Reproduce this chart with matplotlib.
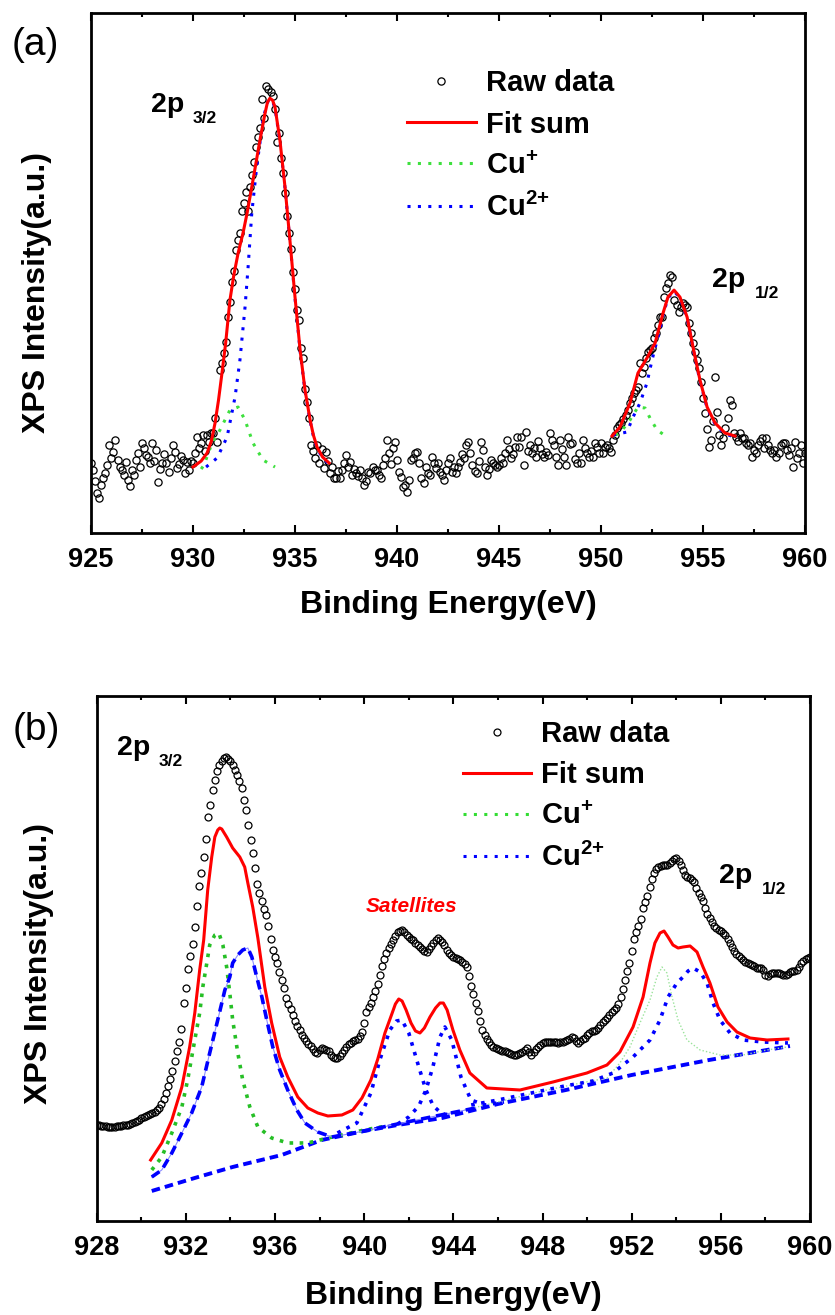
import numpy as np
import matplotlib
matplotlib.use("Agg")
import matplotlib.pyplot as plt
from matplotlib.lines import Line2D
from matplotlib.ticker import MultipleLocator

plt.rcParams['font.family'] = ['Liberation Sans', 'DejaVu Sans']
plt.rcParams['font.weight'] = 'bold'
plt.rcParams['axes.labelweight'] = 'bold'
plt.rcParams['mathtext.fontset'] = 'custom'
plt.rcParams['mathtext.rm'] = 'Liberation Sans:bold'
plt.rcParams['mathtext.bf'] = 'Liberation Sans:bold'
plt.rcParams['mathtext.default'] = 'rm'
plt.rcParams['axes.linewidth'] = 2.0

# ---------------- panel (a): raw data, 0.1 eV steps from 925 eV ----------------
raw_a_start, raw_a_step = 925.0, 0.1
raw_a = [
    70, 63, 52, 40, 35, 48, 55, 60, 68, 88,
    75, 81, 93, 73, 66, 63, 58, 71, 53, 47,
    63, 58, 73, 80, 66, 90, 85, 78, 76, 70,
    90, 72, 83, 51, 64, 70, 79, 70, 61, 75,
    88, 81, 65, 69, 77, 73, 60, 71, 63, 72,
    70, 80, 96, 85, 90, 98, 82, 98, 91, 100,
    100, 115, 91, 163, 170, 180, 191, 216, 231, 251,
    262, 283, 293, 300, 322, 330, 341, 322, 346, 358,
    371, 386, 396, 405, 434, 415, 447, 444, 441, 437,
    424, 391, 400, 375, 360, 340, 317, 300, 284, 261,
    244, 223, 213, 185, 175, 144, 131, 115, 88, 82,
    75, 88, 70, 84, 65, 81, 72, 60, 66, 55,
    55, 62, 55, 63, 70, 78, 66, 71, 58, 64,
    60, 57, 63, 55, 48, 52, 61, 60, 66, 63,
    63, 58, 55, 68, 75, 93, 80, 69, 85, 91,
    73, 61, 56, 46, 48, 41, 53, 73, 75, 80,
    81, 70, 55, 50, 66, 60, 58, 76, 70, 65,
    70, 61, 58, 53, 63, 70, 75, 61, 66, 60,
    66, 71, 79, 75, 88, 91, 80, 68, 62, 60,
    72, 91, 83, 66, 58, 64, 73, 70, 68, 66,
    68, 75, 70, 80, 93, 84, 75, 79, 86, 96,
    86, 96, 68, 101, 82, 88, 80, 85, 76, 92,
    85, 79, 76, 81, 78, 100, 93, 88, 76, 68,
    93, 84, 76, 68, 96, 89, 90, 74, 70, 80,
    70, 93, 85, 80, 76, 82, 76, 90, 86, 80,
    90, 80, 86, 88, 85, 81, 93, 98, 105, 108,
    110, 114, 118, 123, 130, 135, 140, 143, 146, 170,
    160, 166, 175, 181, 183, 185, 195, 200, 208, 216,
    216, 236, 245, 250, 258, 256, 233, 228, 221, 226,
    230, 228, 226, 210, 200, 190, 181, 173, 165, 151,
    135, 120, 104, 86, 93, 112, 156, 121, 98, 88,
    95, 105, 115, 133, 128, 100, 96, 92, 100, 95,
    95, 90, 88, 90, 76, 83, 80, 88, 92, 95,
    85, 95, 88, 83, 80, 83, 76, 80, 88, 90,
    90, 83, 78, 85, 66, 91, 75, 80, 88, 70,
    80,
]

# fit sum, 2p3/2 and 2p1/2
fit_a1_e = [930.00, 930.40, 930.69, 930.90, 931.08, 931.25, 931.42, 931.60, 931.81, 932.00,
            932.21, 932.45, 932.65, 932.94, 933.28, 933.53, 933.65, 933.77, 933.90, 934.02,
            934.26, 934.51, 934.75, 935.00, 935.25, 935.49, 935.74, 935.90, 936.08, 936.35, 936.67]
fit_a1_i = [66, 72, 80, 92, 110, 133, 160, 190, 233, 258,
            280, 300, 320, 353, 393, 420, 431, 435, 433, 426,
            393, 346, 293, 236, 183, 143, 113, 98, 86, 76, 70]
fit_a2_e = [950.54, 950.93, 951.42, 951.81, 952.25, 952.65, 953.04, 953.28, 953.58, 953.87,
            954.22, 954.51, 954.85, 955.20, 955.59, 956.08, 956.57]
fit_a2_i = [97, 106, 130, 160, 175, 190, 220, 236, 243, 236,
            216, 186, 153, 126, 110, 100, 97]

# Cu2+ components
cu2_a1_e = [930.64, 931.18, 931.67, 932.06, 932.30, 932.55, 932.70, 932.88, 933.12, 933.45,
            933.69, 933.77, 933.90, 934.02, 934.26, 934.51, 934.75, 935.00, 935.25, 935.49,
            935.74, 935.90, 936.08, 936.35, 936.67]
cu2_a1_i = [66, 75, 96, 136, 173, 226, 266, 320, 366, 416,
            433, 434, 432, 425, 392, 345, 292, 235, 182, 142,
            112, 97, 85, 75, 69]
cu2_a2_e = [950.59, 951.27, 951.57, 951.91, 952.25, 952.50, 952.75, 952.89, 953.04, 953.28,
            953.58, 953.87, 954.22, 954.51, 954.85, 955.20, 955.59, 956.08, 956.57]
cu2_a2_i = [98, 101, 116, 130, 150, 173, 193, 203, 218, 235,
            242, 235, 215, 185, 152, 125, 109, 99, 96]

# Cu+ components
cu1_a1_e = [930.40, 930.54, 930.93, 931.32, 931.81, 932.21, 932.55, 932.94, 933.43, 934.02]
cu1_a1_i = [64, 68, 90, 103, 123, 126, 113, 90, 73, 66]
cu1_a2_e = [950.70, 950.93, 951.42, 951.81, 952.16, 952.40, 952.75, 953.24]
cu1_a2_i = [98, 100, 113, 126, 125, 115, 103, 96]

# ---------------- panel (b): raw data, 0.1 eV steps from 928 eV ----------------
raw_b_start, raw_b_step = 928.0, 0.1
raw_b = [
    96, 96, 95, 95, 95, 94, 94, 94, 94, 95,
    95, 95, 96, 96, 96, 97, 98, 99, 100, 101,
    103, 104, 105, 106, 107, 108, 109, 111, 113, 117,
    122, 128, 135, 142, 150, 160, 170, 179, 192, 218,
    233, 252, 265, 277, 294, 315, 335, 348, 364, 382,
    404, 416, 431, 441, 450, 456, 460, 463, 464, 462,
    460, 456, 451, 446, 440, 433, 421, 411, 396, 381,
    368, 353, 337, 328, 320, 312, 306, 295, 282, 271,
    264, 258, 249, 241, 233, 223, 217, 212, 206, 200,
    195, 191, 186, 183, 180, 177, 175, 172, 169, 168,
    171, 173, 172, 171, 170, 166, 164, 163, 163, 165,
    168, 171, 174, 177, 178, 180, 181, 182, 185, 189,
    198, 209, 214, 218, 224, 230, 237, 246, 255, 262,
    268, 273, 277, 281, 285, 289, 290, 291, 289, 286,
    284, 282, 281, 278, 276, 274, 272, 270, 269, 272,
    275, 278, 281, 283, 281, 279, 276, 271, 268, 266,
    264, 263, 262, 261, 259, 257, 254, 245, 235, 227,
    218, 210, 200, 191, 186, 182, 179, 176, 174, 173,
    172, 171, 170, 170, 169, 168, 167, 166, 166, 167,
    168, 169, 171, 173, 169, 166, 169, 172, 174, 176,
    178, 179, 179, 179, 179, 179, 179, 178, 179, 179,
    180, 181, 182, 184, 183, 180, 178, 180, 182, 183,
    186, 188, 190, 190, 191, 193, 196, 199, 201, 203,
    206, 209, 211, 213, 217, 224, 232, 241, 250, 258,
    270, 282, 289, 295, 302, 313, 319, 325, 334, 342,
    348, 352, 354, 355, 356, 356, 356, 358, 360, 362,
    363, 360, 356, 351, 346, 344, 343, 341, 339, 333,
    328, 324, 320, 313, 307, 303, 299, 295, 293, 291,
    290, 288, 286, 282, 278, 274, 270, 267, 265, 263,
    261, 259, 258, 257, 256, 255, 253, 253, 253, 251,
    246, 245, 247, 248, 248, 248, 248, 247, 246, 246,
    247, 249, 250, 250, 251, 254, 258, 260, 262, 263,
    264,
]

fit_b_e = [930.42, 930.92, 931.37, 931.82, 932.17, 932.40, 932.62, 932.80, 932.98, 933.16,
           933.30, 933.43, 933.52, 933.61, 933.83, 934.10, 934.42, 934.64, 934.78, 935.00,
           935.23, 935.54, 935.85, 936.21, 936.57, 937.02, 937.47, 937.92, 938.37, 939.00,
           939.49, 939.90, 940.30, 940.61, 940.93, 941.24, 941.40, 941.55, 941.70, 941.88,
           942.10, 942.30, 942.50, 942.70, 942.95, 943.20, 943.40, 943.55, 943.72, 943.98,
           944.29, 944.74, 945.50, 946.99, 948.47,
           949.99, 950.89, 951.47, 952.06, 952.51, 952.82, 953.04, 953.27, 953.45, 953.63,
           953.85, 954.08, 954.30, 954.62, 954.93, 955.20, 955.51, 955.87, 956.28, 956.72,
           957.31, 958.07, 959.01]
fit_b_i = [61, 78, 101, 134, 174, 208, 251, 281, 331, 364,
           384, 391, 393, 392, 384, 373, 364, 354, 338, 314,
           283, 234, 198, 164, 144, 124, 113, 108, 105, 106,
           111, 123, 141, 162, 188, 207, 217, 222, 220, 211,
           198, 190, 188, 193, 204, 213, 218, 218, 211, 191,
           171, 148, 133, 131, 139,
           148, 156, 169, 194, 224, 258, 278, 288, 290, 284,
           276, 273, 274, 275, 269, 254, 238, 214, 199, 189,
           183, 181, 182]

# Cu+ 2p3/2 and 2p1/2
cu1_b1_e = [930.47, 930.92, 931.37, 931.82, 932.08, 932.40, 932.62, 932.76, 932.94, 933.07,
            933.30, 933.48, 933.66, 933.83, 933.97, 934.10, 934.33, 934.55, 934.87, 935.23,
            935.85, 936.57, 937.47, 938.37, 939.20, 940.00, 941.00]
cu1_b1_i = [51, 64, 88, 114, 141, 181, 208, 234, 258, 276,
            286, 288, 276, 254, 228, 201, 168, 141, 114, 94,
            83, 78, 78, 83, 87, 91, 95]
cu1_b2_e = [944.50, 946.00, 948.00, 949.50, 950.90, 951.47, 951.92, 952.37, 952.82, 953.13,
            953.36, 953.58, 953.81, 954.08, 954.48, 955.07, 955.96, 956.99, 958.07, 958.97]
cu1_b2_i = [111, 119, 130, 137, 143, 158, 174, 198, 221, 244,
            254, 248, 224, 201, 181, 171, 166, 166, 171, 174]

# Cu2+ 2p3/2, satellites and 2p1/2
cu2_b1_e = [930.47, 930.92, 931.37, 931.82, 932.26, 932.71, 933.07, 933.43, 933.75, 933.97,
            934.10, 934.33, 934.55, 934.78, 934.96, 935.18, 935.41, 935.63, 935.90, 936.21,
            936.57, 936.98, 937.34, 937.92, 938.55, 939.30, 940.20, 941.50, 943.00, 945.00]
cu2_b1_i = [44, 51, 68, 88, 108, 134, 168, 201, 231, 244,
            258, 266, 271, 273, 264, 244, 224, 201, 174, 151,
            131, 111, 98, 89, 84, 87, 91, 97, 104, 113]
sat1_e = [938.80, 939.67, 940.30, 940.70, 941.15, 941.45, 941.69, 942.00, 942.45, 942.77,
          943.10, 943.50, 944.00]
sat1_i = [88, 98, 128, 161, 191, 200, 201, 188, 154, 131, 115, 107, 106]
sat2_e = [941.50, 942.00, 942.45, 942.77, 943.08, 943.40, 943.62, 943.93, 944.34, 944.79,
          945.41, 946.27]
sat2_i = [97, 104, 115, 131, 154, 184, 194, 181, 144, 121, 116, 119]
cu2_b2_e = [944.80, 946.00, 947.50, 949.00, 950.26, 951.16, 952.06, 952.82, 953.27, 953.63,
            954.03, 954.30, 954.53, 954.75, 955.07, 955.38, 955.65, 955.96, 956.41, 956.99,
            957.89, 959.01]
cu2_b2_i = [116, 121, 128, 135, 140, 148, 164, 181, 201, 224,
            238, 244, 250, 253, 249, 238, 218, 201, 188, 181,
            179, 178]

# background
bg_b_e = [930.47, 932.40, 934.10, 936.30, 938.10, 940.00, 941.50, 943.50, 946.00, 949.05,
          952.00, 955.47, 959.10]
bg_b_i = [30, 43, 54, 66, 81, 90, 96, 103, 117, 131, 146, 161, 175]

legend_labels = ['Raw data', 'Fit sum', 'Cu$^{+}$', 'Cu$^{2{+}}$']

RED = '#ff0000'
BLUE = '#0000ff'
GREEN_A = '#3ee03e'
GREEN_B = '#26bf26'
DOT = (0, (1, 2.4))


def grid(start, step, n):
    return start + step * np.arange(n)


def style_axis(ax, xmin, xmax, major, minor, ymax, xlab_y, ylab_x, ylab_y):
    ax.set_xlim(xmin, xmax)
    ax.set_ylim(0, ymax)
    ax.xaxis.set_major_locator(MultipleLocator(major))
    ax.xaxis.set_minor_locator(MultipleLocator(minor))
    ax.tick_params(axis='x', which='both', direction='in', top=True, bottom=True,
                   width=1.5, labelsize=19.5, pad=10)
    ax.tick_params(axis='x', which='major', length=6)
    ax.tick_params(axis='x', which='minor', length=3)
    ax.set_yticks([])
    ax.set_xlabel('Binding Energy(eV)', fontsize=23)
    ax.xaxis.label.set_va('center')
    ax.xaxis.set_label_coords(0.5, xlab_y)
    ax.set_ylabel('XPS Intensity(a.u.)', fontsize=23)
    ax.yaxis.label.set_va('center')
    ax.yaxis.set_label_coords(ylab_x, ylab_y)


def add_legend(ax, handles, anchor):
    ax.legend(handles, legend_labels, loc='upper left', bbox_to_anchor=anchor,
              frameon=False, fontsize=21, handlelength=2.36, handletextpad=0.34,
              labelspacing=0.45, borderpad=0, borderaxespad=0)


fig = plt.figure(figsize=(8.35, 13.15), dpi=100)
axa = fig.add_axes([0.1090, 0.5947, 0.8551, 0.3952])
axb = fig.add_axes([0.1158, 0.0715, 0.8543, 0.3992])

# ---------- (a) ----------
raw_a_e = grid(raw_a_start, raw_a_step, len(raw_a))
h_raw, = axa.plot(raw_a_e, raw_a, 'o', ms=5.2, mfc='none', mec='black', mew=0.9, zorder=2)
axa.plot(cu1_a1_e, cu1_a1_i, color=GREEN_A, lw=2.2, ls=DOT, zorder=3)
h_cu1, = axa.plot(cu1_a2_e, cu1_a2_i, color=GREEN_A, lw=2.2, ls=DOT, zorder=3)
axa.plot(cu2_a1_e, cu2_a1_i, color=BLUE, lw=2.2, ls=DOT, zorder=3)
h_cu2, = axa.plot(cu2_a2_e, cu2_a2_i, color=BLUE, lw=2.2, ls=DOT, zorder=3)
axa.plot(fit_a1_e, fit_a1_i, color=RED, lw=2.2, zorder=4)
h_fit, = axa.plot(fit_a2_e, fit_a2_i, color=RED, lw=2.2, zorder=4)

style_axis(axa, 925, 960, 5, 2.5, 520, -0.138, -0.0756, 0.4635)
add_legend(axa, [h_raw, h_fit, h_cu1, h_cu2], (0.4426, 0.892))
axa.text(927.94, 421, '2p', fontsize=20.5, va='baseline')
axa.text(930.0, 410, '3/2', fontsize=12.5, va='baseline')
axa.text(955.44, 246, '2p', fontsize=20.5, va='baseline')
axa.text(957.55, 235, '1/2', fontsize=12.5, va='baseline')

# ---------- (b) ----------
raw_b_e = grid(raw_b_start, raw_b_step, len(raw_b))
axb.plot(raw_b_e, raw_b, 'o', ms=5.0, mfc='none', mec='black', mew=0.9, zorder=2)
axb.plot(bg_b_e, bg_b_i, color=BLUE, lw=2.8, ls=(0, (2.2, 1.3)), zorder=3)
axb.plot(cu1_b1_e, cu1_b1_i, color=GREEN_B, lw=2.6, ls=(0, (1, 1.8)), zorder=3)
axb.plot(cu1_b2_e, cu1_b2_i, color='#9be39b', lw=1.0, ls=(0, (1, 1.5)), zorder=3)
axb.plot(cu2_b1_e, cu2_b1_i, color='#8c8cff', lw=0.8, zorder=3)
axb.plot(cu2_b1_e, cu2_b1_i, color=BLUE, lw=2.6, ls=(0, (2.6, 1.6)), zorder=3)
axb.plot(sat1_e, sat1_i, color=BLUE, lw=2.6, ls=(0, (1, 1.8)), zorder=3)
axb.plot(sat2_e, sat2_i, color=BLUE, lw=2.6, ls=(0, (1, 1.8)), zorder=3)
axb.plot(cu2_b2_e, cu2_b2_i, color=BLUE, lw=2.6, ls=(0, (1, 1.8)), zorder=3)
axb.plot(fit_b_e, fit_b_i, color=RED, lw=2.2, zorder=4)

style_axis(axb, 928, 960, 4, 2, 525, -0.143, -0.0809, 0.491)
leg_b = [Line2D([], [], ls='none', marker='o', ms=5.0, mfc='none', mec='black', mew=0.9),
         Line2D([], [], color=RED, lw=2.2),
         Line2D([], [], color='#33dd33', lw=2.2, ls=DOT),
         Line2D([], [], color=BLUE, lw=2.2, ls=DOT)]
add_legend(axb, leg_b, (0.513, 0.9546))
axb.text(928.90, 466, '2p', fontsize=20.5, va='baseline')
axb.text(930.78, 455, '3/2', fontsize=12.5, va='baseline')
axb.text(955.92, 338, '2p', fontsize=20.5, va='baseline')
axb.text(957.85, 327, '1/2', fontsize=12.5, va='baseline')
axb.text(940.07, 309, 'Satellites', fontsize=15, color=RED, style='italic', va='baseline')

fig.text(12 / 835, 1 - 45 / 1315, '(a)', fontsize=28, fontweight='normal', va='center')
fig.text(13 / 835, 1 - 730 / 1315, '(b)', fontsize=28, fontweight='normal', va='center')

fig.savefig('out.png', dpi=100)
